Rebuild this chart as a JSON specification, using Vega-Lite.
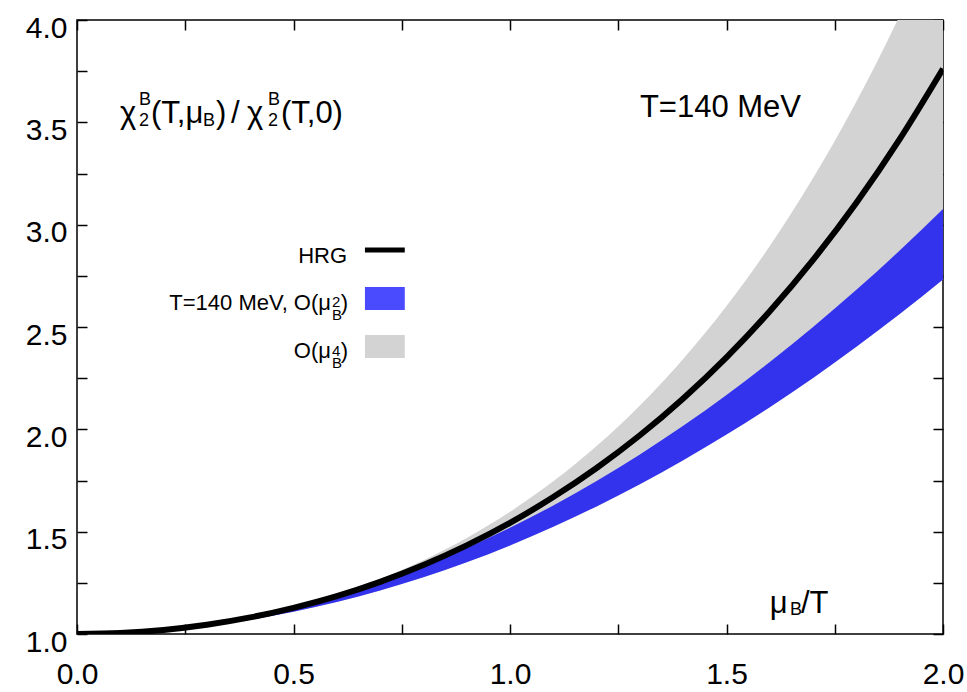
{
  "$schema": "https://vega.github.io/schema/vega-lite/v6.json",
  "width": 866,
  "height": 614,
  "autosize": "none",
  "padding": {"left": 77, "top": 20, "right": 24, "bottom": 58},
  "background": "white",
  "config": {
    "view": {"stroke": "black", "strokeWidth": 1.5},
    "font": "Liberation Sans",
    "axis": {"labelFont": "Liberation Sans", "labelFontSize": 30, "labelColor": "black", "grid": false, "domain": false, "tickColor": "black", "tickWidth": 1.5, "labelFlush": false, "labelOverlap": false, "title": null}
  },
  "datasets": {
    "curves": [
      {"x": 0.0, "hrg": 1.0, "blo": 1.0, "bhi": 1.0, "ghi": 1.0},
      {"x": 0.1, "hrg": 1.005, "blo": 1.0043, "bhi": 1.0052, "ghi": 1.0051},
      {"x": 0.2, "hrg": 1.020, "blo": 1.0173, "bhi": 1.0208, "ghi": 1.0203},
      {"x": 0.3, "hrg": 1.045, "blo": 1.039, "bhi": 1.0467, "ghi": 1.0462},
      {"x": 0.4, "hrg": 1.081, "blo": 1.0693, "bhi": 1.083, "ghi": 1.0832},
      {"x": 0.5, "hrg": 1.128, "blo": 1.1083, "bhi": 1.1298, "ghi": 1.132},
      {"x": 0.6, "hrg": 1.185, "blo": 1.1559, "bhi": 1.1868, "ghi": 1.1937},
      {"x": 0.7, "hrg": 1.255, "blo": 1.2122, "bhi": 1.2543, "ghi": 1.2695},
      {"x": 0.8, "hrg": 1.337, "blo": 1.2771, "bhi": 1.3322, "ghi": 1.3609},
      {"x": 0.9, "hrg": 1.433, "blo": 1.3507, "bhi": 1.4204, "ghi": 1.4694},
      {"x": 1.0, "hrg": 1.543, "blo": 1.433, "bhi": 1.519, "ghi": 1.597},
      {"x": 1.1, "hrg": 1.669, "blo": 1.5239, "bhi": 1.628, "ghi": 1.7458},
      {"x": 1.2, "hrg": 1.811, "blo": 1.6235, "bhi": 1.7474, "ghi": 1.918},
      {"x": 1.3, "hrg": 1.971, "blo": 1.7318, "bhi": 1.8771, "ghi": 2.1162},
      {"x": 1.4, "hrg": 2.151, "blo": 1.8487, "bhi": 2.0172, "ghi": 2.3432},
      {"x": 1.5, "hrg": 2.352, "blo": 1.9743, "bhi": 2.1678, "ghi": 2.602},
      {"x": 1.6, "hrg": 2.577, "blo": 2.1085, "bhi": 2.3286, "ghi": 2.8957},
      {"x": 1.7, "hrg": 2.828, "blo": 2.2514, "bhi": 2.4999, "ghi": 3.2278},
      {"x": 1.8, "hrg": 3.107, "blo": 2.4029, "bhi": 2.6816, "ghi": 3.602},
      {"x": 1.9, "hrg": 3.418, "blo": 2.5631, "bhi": 2.8736, "ghi": 4.022},
      {"x": 2.0, "hrg": 3.762, "blo": 2.732, "bhi": 3.076, "ghi": 4.5}
    ],
    "ann": [
      {"x": 0.0993, "y": 3.496, "text": "χ", "role": "t"},
      {"x": 0.1709, "y": 3.496, "text": "(T,μ", "role": "t"},
      {"x": 0.321, "y": 3.496, "text": ")", "role": "t"},
      {"x": 0.3557, "y": 3.496, "text": "/", "role": "t"},
      {"x": 0.3926, "y": 3.496, "text": "χ", "role": "t"},
      {"x": 0.471, "y": 3.496, "text": "(T,0)", "role": "t"},
      {"x": 1.300, "y": 3.526, "text": "T=140 MeV", "role": "t"},
      {"x": 1.600, "y": 1.1026, "text": "μ", "role": "t"},
      {"x": 1.672, "y": 1.1026, "text": "/T", "role": "t"},
      {"x": 0.1432, "y": 3.584, "text": "B", "role": "ts"},
      {"x": 0.1432, "y": 3.482, "text": "2", "role": "ts"},
      {"x": 0.291, "y": 3.482, "text": "B", "role": "ts"},
      {"x": 0.441, "y": 3.584, "text": "B", "role": "ts"},
      {"x": 0.441, "y": 3.482, "text": "2", "role": "ts"},
      {"x": 1.6467, "y": 1.093, "text": "B", "role": "ts"},
      {"x": 0.6236, "y": 2.812, "text": "HRG", "role": "l"},
      {"x": 0.5866, "y": 2.583, "text": "T=140 MeV, O(μ", "role": "l"},
      {"x": 0.6259, "y": 2.583, "text": ")", "role": "l"},
      {"x": 0.5866, "y": 2.348, "text": "O(μ", "role": "l"},
      {"x": 0.6259, "y": 2.348, "text": ")", "role": "l"},
      {"x": 0.589, "y": 2.6, "text": "2", "role": "ls"},
      {"x": 0.589, "y": 2.534, "text": "B", "role": "ls"},
      {"x": 0.589, "y": 2.36, "text": "4", "role": "ls"},
      {"x": 0.589, "y": 2.299, "text": "B", "role": "ls"}
    ],
    "legsym": [
      {"item": "blue", "x": 0.665, "x2": 0.757, "y": 2.583, "y2": 2.695},
      {"item": "gray", "x": 0.665, "x2": 0.757, "y": 2.348, "y2": 2.461}
    ],
    "legline": [
      {"x": 0.665, "x2": 0.757, "y": 2.876}
    ]
  },
  "resolve": {"axis": {"x": "independent", "y": "independent"}},
  "layer": [
    {
      "data": {"name": "curves"},
      "mark": {"type": "area", "color": "#d3d3d3", "clip": true, "interpolate": "monotone"},
      "encoding": {
        "x": {"field": "x", "type": "quantitative", "scale": {"domain": [0, 2], "nice": false},
          "axis": {"orient": "bottom", "values": [0, 0.25, 0.5, 0.75, 1, 1.25, 1.5, 1.75, 2], "labelExpr": "(datum.value*2)%1===0 ? format(datum.value,'.1f') : ''", "tickSize": -10, "labelPadding": 35}},
        "y": {"field": "blo", "type": "quantitative", "scale": {"domain": [1, 4], "nice": false, "zero": false},
          "axis": {"orient": "left", "values": [1, 1.25, 1.5, 1.75, 2, 2.25, 2.5, 2.75, 3, 3.25, 3.5, 3.75, 4], "labelExpr": "(datum.value*2)%1===0 ? format(datum.value,'.1f') : ''", "tickSize": -10, "labelPadding": 20, "labelOffset": 8}},
        "y2": {"field": "ghi"}
      }
    },
    {
      "data": {"name": "curves"},
      "mark": {"type": "area", "color": "#3333ee", "clip": true, "interpolate": "monotone"},
      "encoding": {
        "x": {"field": "x", "type": "quantitative",
          "axis": {"orient": "top", "values": [0, 0.25, 0.5, 0.75, 1, 1.25, 1.5, 1.75, 2], "labels": false, "tickSize": -10}},
        "y": {"field": "blo", "type": "quantitative",
          "axis": {"orient": "right", "values": [1, 1.25, 1.5, 1.75, 2, 2.25, 2.5, 2.75, 3, 3.25, 3.5, 3.75, 4], "labels": false, "tickSize": -10}},
        "y2": {"field": "bhi"}
      }
    },
    {
      "data": {"name": "curves"},
      "mark": {"type": "line", "color": "black", "strokeWidth": 6, "clip": true, "interpolate": "monotone"},
      "encoding": {
        "x": {"field": "x", "type": "quantitative", "axis": null},
        "y": {"field": "hrg", "type": "quantitative", "axis": null}
      }
    },
    {
      "data": {"name": "legsym"},
      "mark": {"type": "rect"},
      "encoding": {
        "x": {"field": "x", "type": "quantitative", "axis": null},
        "x2": {"field": "x2"},
        "y": {"field": "y", "type": "quantitative", "axis": null},
        "y2": {"field": "y2"},
        "color": {"field": "item", "type": "nominal", "scale": {"domain": ["blue", "gray"], "range": ["#4a4aff", "#d3d3d3"]}, "legend": null}
      }
    },
    {
      "data": {"name": "legline"},
      "mark": {"type": "rule", "color": "black", "strokeWidth": 5},
      "encoding": {
        "x": {"field": "x", "type": "quantitative", "axis": null},
        "x2": {"field": "x2"},
        "y": {"field": "y", "type": "quantitative", "axis": null}
      }
    },
    {
      "data": {"name": "ann"},
      "transform": [{"filter": "datum.role === 't'"}],
      "mark": {"type": "text", "align": "left", "baseline": "alphabetic", "fontSize": 31, "font": "Liberation Sans", "color": "black"},
      "encoding": {
        "x": {"field": "x", "type": "quantitative", "axis": null},
        "y": {"field": "y", "type": "quantitative", "axis": null},
        "text": {"field": "text"}
      }
    },
    {
      "data": {"name": "ann"},
      "transform": [{"filter": "datum.role === 'ts'"}],
      "mark": {"type": "text", "align": "left", "baseline": "alphabetic", "fontSize": 18, "font": "Liberation Sans", "color": "black"},
      "encoding": {
        "x": {"field": "x", "type": "quantitative", "axis": null},
        "y": {"field": "y", "type": "quantitative", "axis": null},
        "text": {"field": "text"}
      }
    },
    {
      "data": {"name": "ann"},
      "transform": [{"filter": "datum.role === 'l'"}],
      "mark": {"type": "text", "align": "right", "baseline": "alphabetic", "fontSize": 22, "font": "Liberation Sans", "color": "black"},
      "encoding": {
        "x": {"field": "x", "type": "quantitative", "axis": null},
        "y": {"field": "y", "type": "quantitative", "axis": null},
        "text": {"field": "text"}
      }
    },
    {
      "data": {"name": "ann"},
      "transform": [{"filter": "datum.role === 'ls'"}],
      "mark": {"type": "text", "align": "left", "baseline": "alphabetic", "fontSize": 15, "font": "Liberation Sans", "color": "black"},
      "encoding": {
        "x": {"field": "x", "type": "quantitative", "axis": null},
        "y": {"field": "y", "type": "quantitative", "axis": null},
        "text": {"field": "text"}
      }
    }
  ]
}
